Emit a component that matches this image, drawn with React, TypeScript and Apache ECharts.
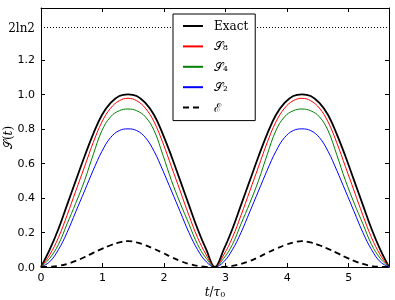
import React, { useEffect, useRef } from "react";
import * as echarts from "echarts";

const T = [0, 0.141, 0.283, 0.424, 0.565, 0.707, 0.848, 0.99, 1.131, 1.272, 1.414, 1.555, 1.696, 1.838, 1.979, 2.121, 2.262, 2.403, 2.545, 2.686, 2.827, 2.969, 3.11, 3.251, 3.393, 3.534, 3.675, 3.817, 3.958, 4.099, 4.241, 4.382, 4.524, 4.665, 4.806, 4.948, 5.089, 5.23, 5.372, 5.513, 5.655];
const EXACT = [0, 0.10, 0.22, 0.36, 0.50, 0.64, 0.77, 0.88, 0.95, 0.99, 1.00, 0.99, 0.95, 0.88, 0.77, 0.64, 0.50, 0.36, 0.22, 0.10, 0, 0.10, 0.22, 0.36, 0.50, 0.64, 0.77, 0.88, 0.95, 0.99, 1.00, 0.99, 0.95, 0.88, 0.77, 0.64, 0.50, 0.36, 0.22, 0.10, 0];
const S8 = [0, 0.07, 0.17, 0.30, 0.44, 0.58, 0.72, 0.84, 0.92, 0.963, 0.977, 0.963, 0.92, 0.84, 0.72, 0.58, 0.44, 0.30, 0.17, 0.07, 0, 0.07, 0.17, 0.30, 0.44, 0.58, 0.72, 0.84, 0.92, 0.963, 0.977, 0.963, 0.92, 0.84, 0.72, 0.58, 0.44, 0.30, 0.17, 0.07, 0];
const S4 = [0, 0.05, 0.13, 0.25, 0.37, 0.50, 0.65, 0.79, 0.87, 0.905, 0.915, 0.905, 0.87, 0.79, 0.65, 0.50, 0.37, 0.25, 0.13, 0.05, 0, 0.05, 0.13, 0.25, 0.37, 0.50, 0.65, 0.79, 0.87, 0.905, 0.915, 0.905, 0.87, 0.79, 0.65, 0.50, 0.37, 0.25, 0.13, 0.05, 0];
const S2 = [0, 0.03, 0.10, 0.20, 0.32, 0.44, 0.56, 0.67, 0.75, 0.79, 0.80, 0.79, 0.75, 0.67, 0.56, 0.44, 0.32, 0.20, 0.10, 0.03, 0, 0.03, 0.10, 0.20, 0.32, 0.44, 0.56, 0.67, 0.75, 0.79, 0.80, 0.79, 0.75, 0.67, 0.56, 0.44, 0.32, 0.20, 0.10, 0.03, 0];
const E = [0, 0.001, 0.006, 0.018, 0.035, 0.057, 0.082, 0.105, 0.126, 0.142, 0.150, 0.142, 0.126, 0.105, 0.082, 0.057, 0.035, 0.018, 0.006, 0.001, 0, 0.001, 0.006, 0.018, 0.035, 0.057, 0.082, 0.105, 0.126, 0.142, 0.150, 0.142, 0.126, 0.105, 0.082, 0.057, 0.035, 0.018, 0.006, 0.001, 0];

const X_TICKS = [0, 1, 2, 3, 4, 5];
const Y_TICKS = [0, 0.2, 0.4, 0.6, 0.8, 1.0, 1.2];
const TWO_LN2 = 1.3863;
const X_MAX = 5.655;
const Y_MAX = 1.5;

const NAMES = ["Exact", "𝒮₈", "𝒮₄", "𝒮₂", "ℰ"];

export default function App() {
  const ref = useRef<HTMLDivElement>(null);
  useEffect(() => {
    if (!ref.current) return;
    const chart = echarts.init(ref.current, null, { renderer: "svg" });
    const pts = (v: number[]) => T.map((t, i) => [t, v[i]]);
    const sansFont = "DejaVu Sans";
    const serifFont = "DejaVu Serif";
    const mk = (name: string, data: number[], color: string, width: number, type: any) => ({
      name,
      type: "line",
      data: pts(data),
      smooth: 0.4,
      symbol: "none",
      lineStyle: { color, width, type },
      itemStyle: { color },
      z: 2,
    });
    const yVals = [...Y_TICKS, TWO_LN2];
    chart.setOption({
      animation: false,
      grid: { left: 41, right: 6, top: 8, bottom: 33, containLabel: false, outerBoundsMode: "none" },
      legend: {
        orient: "vertical",
        left: 173,
        top: 14,
        z: 10,
        padding: [5, 7, 6, 9],
        itemWidth: 20,
        itemHeight: 10,
        itemGap: 6.4,
        backgroundColor: "#fff",
        borderColor: "#000",
        borderWidth: 1,
        borderRadius: 0,
        itemStyle: { opacity: 0 },
        textStyle: { fontFamily: serifFont, fontSize: 12, color: "#000", padding: [0, 0, 0, 6], lineHeight: 14 },
        data: NAMES,
      },
      xAxis: [
        {
          type: "value",
          min: 0,
          max: X_MAX,
          interval: 1,
          splitLine: { show: false },
          axisLine: { show: true, onZero: false, lineStyle: { color: "#000", width: 1 } },
          axisTick: { show: true, inside: true, length: 4, customValues: X_TICKS, lineStyle: { color: "#000" } },
          axisLabel: {
            customValues: X_TICKS,
            margin: 5,
            fontFamily: sansFont,
            fontSize: 11,
            color: "#000",
            formatter: (v: number) => (Number.isInteger(v) ? String(v) : ""),
          },
          name: "{i|t}/{i|τ}{s|0}",
          nameLocation: "middle",
          nameGap: 19,
          nameMoveOverlap: false,
          nameTextStyle: {
            fontFamily: serifFont,
            fontSize: 12,
            color: "#000",
            rich: {
              i: { fontFamily: serifFont, fontStyle: "italic", fontSize: 12, color: "#000" },
              s: { fontFamily: serifFont, fontSize: 8, color: "#000", verticalAlign: "bottom", padding: [4, 0, 0, 0] },
            },
          },
        },
        {
          type: "value",
          position: "top",
          min: 0,
          max: X_MAX,
          interval: 1,
          splitLine: { show: false },
          axisLine: { show: true, onZero: false, lineStyle: { color: "#000", width: 1 } },
          axisTick: { show: true, inside: true, length: 4, customValues: X_TICKS, lineStyle: { color: "#000" } },
          axisLabel: { show: false },
        },
      ],
      yAxis: [
        {
          type: "value",
          min: 0,
          max: Y_MAX,
          interval: 0.2,
          splitLine: { show: false },
          axisLine: { show: true, onZero: false, lineStyle: { color: "#000", width: 1 } },
          axisTick: { show: true, inside: true, length: 4, customValues: Y_TICKS, lineStyle: { color: "#000" } },
          axisLabel: {
            customValues: yVals,
            margin: 6,
            fontFamily: sansFont,
            fontSize: 11,
            color: "#000",
            formatter: (v: number) => (Math.abs(v - TWO_LN2) < 1e-3 ? "{s|2ln2}" : v.toFixed(1)),
            rich: { s: { fontFamily: serifFont, fontSize: 12, color: "#000" } },
          },
          name: "𝒮({i|t})",
          nameLocation: "middle",
          nameGap: 27,
          nameRotate: 90,
          nameMoveOverlap: false,
          nameTextStyle: {
            fontFamily: serifFont,
            fontSize: 12,
            color: "#000",
            rich: { i: { fontFamily: serifFont, fontStyle: "italic", fontSize: 12, color: "#000" } },
          },
        },
        {
          type: "value",
          position: "right",
          min: 0,
          max: Y_MAX,
          interval: 0.2,
          splitLine: { show: false },
          axisLine: { show: true, onZero: false, lineStyle: { color: "#000", width: 1 } },
          axisTick: { show: true, inside: true, length: 4, customValues: Y_TICKS, lineStyle: { color: "#000" } },
          axisLabel: { show: false },
        },
      ],
      series: [
        {
          ...mk(NAMES[0], EXACT, "#000000", 1.8, "solid"),
          markLine: {
            silent: true,
            symbol: "none",
            z: 1,
            label: { show: false },
            lineStyle: { color: "#000", width: 1, type: [1, 2] },
            data: [{ yAxis: TWO_LN2 }],
          },
        },
        mk(NAMES[1], S8, "#ff0000", 1, "solid"),
        mk(NAMES[2], S4, "#008000", 1, "solid"),
        mk(NAMES[3], S2, "#0000ff", 1, "solid"),
        mk(NAMES[4], E, "#000000", 1.8, [6, 4]),
      ],
    });
    return () => chart.dispose();
  }, []);
  return <div ref={ref} style={{ position: "fixed", left: 0, top: 0, width: 395, height: 300 }} />;
}
